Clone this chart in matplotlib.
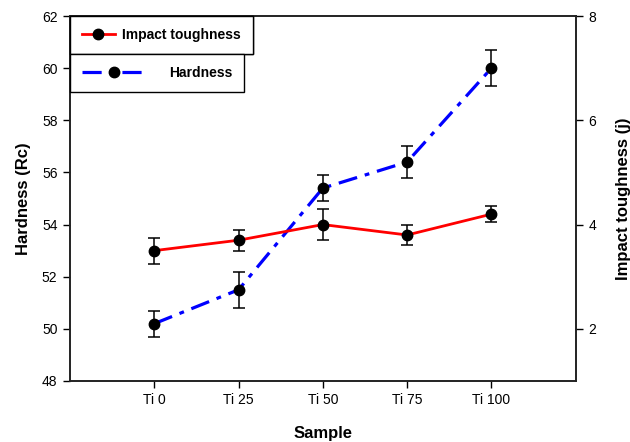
import matplotlib
matplotlib.use("Agg")
import matplotlib.pyplot as plt

samples = ["Ti 0", "Ti 25", "Ti 50", "Ti 75", "Ti 100"]
positions = [1, 2, 3, 4, 5]
hardness = [50.2, 51.5, 55.4, 56.4, 60.0]
hardness_err = [0.5, 0.7, 0.5, 0.6, 0.7]
impact = [3.5, 3.7, 4.0, 3.8, 4.2]
impact_err = [0.25, 0.2, 0.3, 0.2, 0.15]

plt.rcParams['font.family'] = ['Liberation Sans', 'DejaVu Sans']

fig = plt.figure(figsize=(6.3, 4.42), dpi=100)
ax = fig.add_axes([70/630, 1-381/442, (575.7-70)/630, (381-16)/442])
ax2 = ax.twinx()

# Hardness on left axis
lh, = ax.plot(positions, hardness, color='blue', lw=2.3, linestyle=(0, (6, 2.5, 1.5, 2.5)),
              marker='o', ms=7.5, mfc='black', mec='black', zorder=3)
ax.errorbar(positions, hardness, yerr=hardness_err, fmt='none', ecolor='black',
            elinewidth=1.1, capsize=4, capthick=1.1, zorder=4)

# Impact toughness on right axis
li, = ax2.plot(positions, impact, color='red', lw=2.0, linestyle='-',
               marker='o', ms=7.5, mfc='black', mec='black', zorder=3)
ax2.errorbar(positions, impact, yerr=impact_err, fmt='none', ecolor='black',
             elinewidth=1.1, capsize=4, capthick=1.1, zorder=4)

ax.set_xlim(0, 6)
ax.set_ylim(48, 62)
ax.set_yticks(range(48, 63, 2))
ax2.set_ylim(1, 8)
ax2.set_yticks([2, 4, 6, 8])
ax.set_xticks(positions)
ax.set_xticklabels(samples)

for a in (ax, ax2):
    for s in a.spines.values():
        s.set_linewidth(1.2)
        s.set_color('#222222')
ax.tick_params(axis='both', direction='out', length=5, width=1, labelsize=10, pad=4)
ax2.tick_params(axis='y', direction='out', length=5, width=1, labelsize=10, pad=4)

ax.set_xlabel("Sample", fontsize=12, fontweight='bold', labelpad=13)
ax.set_ylabel("Hardness (Rc)", fontsize=12, fontweight='bold', labelpad=8)
ax2.set_ylabel("Impact toughness (j)", fontsize=12, fontweight='bold', labelpad=14)

leg1 = fig.legend(handles=[li], labels=["Impact toughness"], loc='upper left',
                  bbox_to_anchor=(70/630, 1-16/442), bbox_transform=fig.transFigure,
                  borderaxespad=0, frameon=True, fancybox=False, edgecolor='black',
                  framealpha=1, numpoints=1, handlelength=2.4, handletextpad=0.5,
                  borderpad=0.85, prop={'size': 10, 'weight': 'bold'})
leg1.get_frame().set_linewidth(1.0)
leg2 = fig.legend(handles=[lh], labels=["Hardness"], loc='upper left',
                  bbox_to_anchor=(70/630, 1-54/442), bbox_transform=fig.transFigure,
                  borderaxespad=0, frameon=True, fancybox=False, edgecolor='black',
                  framealpha=1, numpoints=1, handlelength=4.7, handletextpad=1.6,
                  borderpad=0.85, prop={'size': 10, 'weight': 'bold'})
leg2.get_frame().set_linewidth(1.0)
fig.add_artist(leg1)

fig.savefig("out.png", dpi=100)
